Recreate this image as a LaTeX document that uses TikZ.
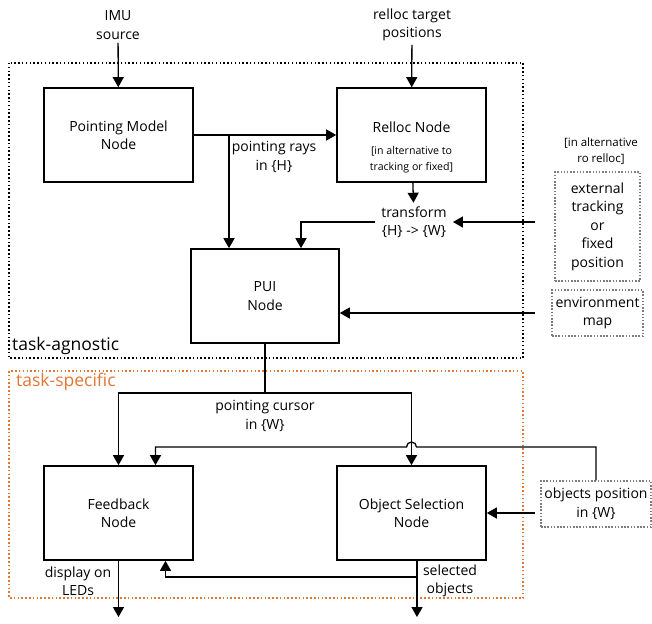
\documentclass[tikz,border=0pt]{standalone}
\usepackage{fontspec}
\setmainfont{Open Sans}
\usetikzlibrary{arrows.meta,positioning}

\definecolor{naranja}{RGB}{228,118,52}
\definecolor{gris}{RGB}{125,125,125}

\tikzset{
  nodo/.style={draw,line width=1.6pt,minimum width=149pt,minimum height=94pt,align=center,inner sep=0pt,texto},
  externo/.style={draw=gris,line width=1.3pt,dash pattern=on 1.5pt off 1.7pt,align=center,inner sep=0pt,texto},
  texto/.style={align=center,font=\fontsize{14}{18.5}\selectfont},
  chico/.style={align=center,font=\fontsize{10.6}{16}\selectfont},
  zona/.style={anchor=base west,inner sep=0pt,font=\fontsize{17.5}{20}\selectfont},
  flecha/.style={line width=1.3pt,-{Triangle[width=11pt,length=10pt]}},
  linea/.style={line width=1.3pt},
}

\begin{document}
\begin{tikzpicture}[x=1pt,y=1pt]
    \useasboundingbox (0,0) rectangle (652,-623);

    % Zonas
    \draw[line width=1.3pt,dash pattern=on 1.5pt off 2.3pt] (9,-63) rectangle (523,-358);
    \draw[naranja,line width=1.3pt,dash pattern=on 1.5pt off 2.3pt] (9,-371) rectangle (523,-598);
    \node[zona] (agn) at (12,-350) {task-agnostic};
    \node[zona,text=naranja] (spec) at (16,-386) {task-specific};

    % Nodos principales
    \node[nodo] (pmn) at (118.5,-135) {Pointing Model\\Node};
    \node[nodo] (rln) at (411.5,-135) {};
    \node[texto] (rlt) at ([yshift=8]rln.center) {Relloc Node};
    \node[chico] (rlc) at ([yshift=-25]rln.center) {[in alternative to\\tracking or fixed]};
    \node[nodo,minimum width=148pt] (pui) at (265,-296) {PUI\\Node};
    \node[nodo] (fbn) at (118.5,-513) {Feedback\\Node};
    \node[nodo] (osn) at (411.5,-513) {Object Selection\\Node};

    % Entradas externas
    \node[texto] (imu) at (118,-25) {IMU\\source};
    \node[texto] (tgt) at (412,-25) {relloc target\\positions};
    \node[chico,font=\fontsize{11.5}{16}\selectfont] (alt) at (601,-151) {[in alternative\\ro relloc]};
    \node[externo,minimum width=85pt,minimum height=109pt] (ext) at (597.5,-226.5) {external\\tracking\\or\\fixed\\position};
    \node[externo,minimum width=91pt,minimum height=46pt] (env) at (597.5,-313) {environment\\map};
    \node[externo,minimum width=110pt,minimum height=46pt] (obj) at (596,-504) {objects position\\in \{W\}};

    % Etiquetas de las conexiones
    \node[texto] (rays) at (274,-157) {pointing rays\\in \{H\}};
    \node[texto,inner xsep=6pt] (tf) at (414,-222) {transform\\\{H\} -> \{W\}};
    \node[texto] (cur) at (265,-416) {pointing cursor\\in \{W\}};
    \node[texto] (leds) at (78,-581) {display on\\LEDs};
    \node[texto] (selt) at (450,-581) {selected\\objects};

    % Puntos auxiliares
    \coordinate (rama) at (229,-135);
    \coordinate (extin) at (535,-222);
    \coordinate (envin) at (535,-313);
    \coordinate (objin) at (535,-513);
    \coordinate (cursor) at (265,-393);
    \coordinate (cruce) at (411.5,-447);
    \coordinate (ramasel) at (417,-577);
    \coordinate (ledsout) at (118.5,-617);
    \coordinate (selout) at (417,-617);

    % Conexiones
    \draw[flecha] (imu) -- (pmn);
    \draw[flecha] (tgt) -- (rln);
    \draw[flecha] (pmn) -- (rln);
    \draw[flecha] (rama) -- (rama |- pui.north);
    \draw[flecha] (rln) -- (tf);
    \draw[flecha] (tf.west) -| ([xshift=36]pui.north);
    \draw[flecha] (extin) -- (tf.east);
    \draw[flecha] (envin) -- (envin -| pui.east);
    \draw[linea] (pui) -- (cursor);
    \draw[flecha] (cursor) -| (fbn.north);
    \draw[flecha] (cursor) -| (osn.north);
    \draw[flecha] (obj.north) |- ([xshift=5]cruce) arc[start angle=0,end angle=180,radius=5] -| ([xshift=37]fbn.north);
    \draw[flecha] (objin) -- (osn.east);
    \draw[flecha] (fbn) -- (ledsout);
    \draw[flecha] ([xshift=5.5]osn.south) -- (selout);
    \draw[flecha] (ramasel) -| ([xshift=47]fbn.south);
\end{tikzpicture}
\end{document}
